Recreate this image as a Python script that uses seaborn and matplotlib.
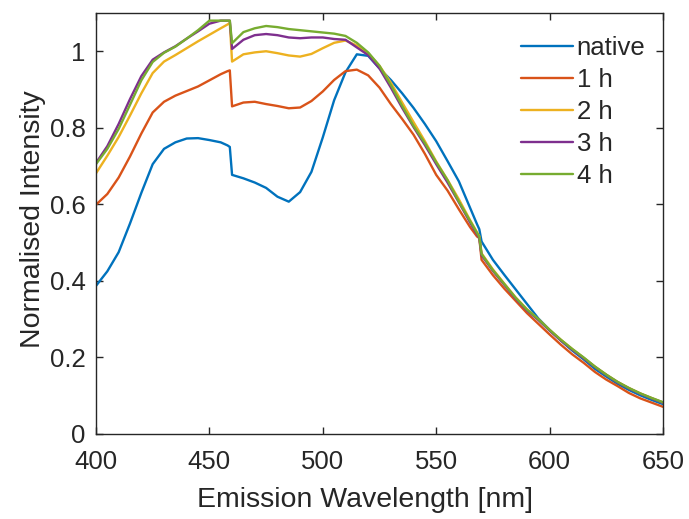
import pandas as pd
import matplotlib
matplotlib.use('Agg')
import matplotlib.pyplot as plt
import seaborn as sns

# Emission wavelength grid [nm]
wavelength = [400, 405, 410, 415, 420, 425, 430, 435, 440, 445, 450, 455, 458, 459,
              460, 465, 470, 475, 480, 485, 490, 495, 500, 505, 510, 515, 520, 525,
              530, 535, 540, 545, 550, 555, 560, 565, 568, 569, 570, 575, 580, 585,
              590, 595, 600, 605, 610, 615, 620, 625, 630, 635, 640, 645, 650]

# Normalised intensity per treatment time
native = [0.387, 0.425, 0.475, 0.550, 0.630, 0.705, 0.745, 0.762, 0.772, 0.773, 0.768, 0.762, 0.754, 0.750,
          0.677, 0.668, 0.657, 0.643, 0.620, 0.607, 0.632, 0.685, 0.775, 0.872, 0.945, 0.992, 0.988, 0.955,
          0.925, 0.890, 0.852, 0.810, 0.765, 0.713, 0.660, 0.590, 0.548, 0.535, 0.503, 0.455, 0.416, 0.378,
          0.340, 0.302, 0.272, 0.244, 0.218, 0.195, 0.170, 0.150, 0.131, 0.115, 0.101, 0.089, 0.078]
h1 = [0.599, 0.627, 0.670, 0.725, 0.785, 0.840, 0.868, 0.884, 0.896, 0.908, 0.924, 0.940, 0.948, 0.950,
      0.856, 0.866, 0.868, 0.862, 0.857, 0.851, 0.853, 0.870, 0.895, 0.925, 0.948, 0.952, 0.937, 0.905,
      0.862, 0.823, 0.782, 0.732, 0.677, 0.636, 0.587, 0.540, 0.516, 0.512, 0.455, 0.415, 0.380, 0.348,
      0.316, 0.288, 0.260, 0.233, 0.208, 0.186, 0.162, 0.142, 0.125, 0.107, 0.093, 0.082, 0.071]
h2 = [0.681, 0.727, 0.776, 0.832, 0.890, 0.943, 0.973, 0.990, 1.008, 1.026, 1.043, 1.060, 1.070, 1.074,
      0.973, 0.992, 0.997, 1.000, 0.995, 0.989, 0.986, 0.993, 1.008, 1.022, 1.028, 1.015, 0.995, 0.962,
      0.918, 0.866, 0.815, 0.765, 0.712, 0.664, 0.613, 0.558, 0.527, 0.517, 0.472, 0.430, 0.393, 0.357,
      0.326, 0.300, 0.272, 0.246, 0.222, 0.199, 0.176, 0.155, 0.136, 0.120, 0.106, 0.094, 0.082]
h3 = [0.708, 0.752, 0.810, 0.875, 0.935, 0.978, 0.997, 1.013, 1.033, 1.052, 1.072, 1.080, 1.080, 1.080,
      1.006, 1.030, 1.042, 1.045, 1.042, 1.036, 1.034, 1.036, 1.036, 1.032, 1.030, 1.010, 0.990, 0.955,
      0.905, 0.852, 0.802, 0.755, 0.705, 0.657, 0.605, 0.552, 0.522, 0.512, 0.467, 0.426, 0.390, 0.354,
      0.323, 0.298, 0.270, 0.244, 0.220, 0.198, 0.175, 0.154, 0.135, 0.119, 0.105, 0.093, 0.082]
h4 = [0.705, 0.745, 0.797, 0.860, 0.924, 0.972, 0.996, 1.012, 1.033, 1.055, 1.080, 1.080, 1.080, 1.080,
      1.021, 1.050, 1.060, 1.066, 1.063, 1.058, 1.055, 1.052, 1.049, 1.046, 1.040, 1.022, 0.997, 0.962,
      0.912, 0.857, 0.805, 0.760, 0.710, 0.663, 0.607, 0.556, 0.525, 0.515, 0.470, 0.428, 0.392, 0.356,
      0.325, 0.300, 0.272, 0.246, 0.222, 0.200, 0.176, 0.155, 0.136, 0.120, 0.106, 0.094, 0.083]

labels = ['native', '1 h', '2 h', '3 h', '4 h']
colors = ['#0072BD', '#D95319', '#EDB120', '#7E2F8E', '#77AC30']
xticks = [400, 450, 500, 550, 600, 650]
yticks = [0, 0.2, 0.4, 0.6, 0.8, 1]
ytick_labels = ['0', '0.2', '0.4', '0.6', '0.8', '1']

# long-form table for seaborn
frames = []
for lab, vals in zip(labels, [native, h1, h2, h3, h4]):
    frames.append(pd.DataFrame({'Wavelength': wavelength, 'Intensity': vals, 'Sample': lab}))
df = pd.concat(frames, ignore_index=True)

sns.set_style('ticks')
plt.rcParams['font.family'] = ['Liberation Sans', 'DejaVu Sans']
axcol = '#262626'

fig = plt.figure(figsize=(6.89, 5.19), dpi=100)
ax = fig.add_axes([0.1393, 0.1638, 0.8230, 0.8112])

sns.lineplot(data=df, x='Wavelength', y='Intensity', hue='Sample', hue_order=labels,
             palette=colors, linewidth=1.7, ax=ax, legend=False)

ax.set_xlim(400, 650)
ax.set_ylim(0, 1.1)
ax.set_xticks(xticks)
ax.set_xticklabels([str(t) for t in xticks])
ax.set_yticks(yticks)
ax.set_yticklabels(ytick_labels)
ax.set_xlabel('Emission Wavelength [nm]', fontsize=20.5, color=axcol, labelpad=9)
ax.set_ylabel('Normalised Intensity', fontsize=20.5, color=axcol, labelpad=2.5)
ax.xaxis.set_label_coords(0.474, -0.125)
ax.yaxis.label.set_y(0.51)

for s in ax.spines.values():
    s.set_visible(True)
    s.set_color(axcol)
    s.set_linewidth(1.0)
ax.tick_params(direction='in', length=5, width=1.0, colors=axcol, labelsize=18.5,
               top=True, right=True)
ax.tick_params(axis='x', pad=11.5)
ax.tick_params(axis='y', pad=7.5)

handles = [plt.Line2D([], [], color=c, linewidth=1.7) for c in colors]
ax.legend(handles, labels, loc='upper left', bbox_to_anchor=(0.749, 0.946),
          frameon=False, fontsize=18.5, handlelength=2.02, handletextpad=0.16,
          labelspacing=0.31, borderpad=0, borderaxespad=0)

fig.savefig('out.png', dpi=100)
